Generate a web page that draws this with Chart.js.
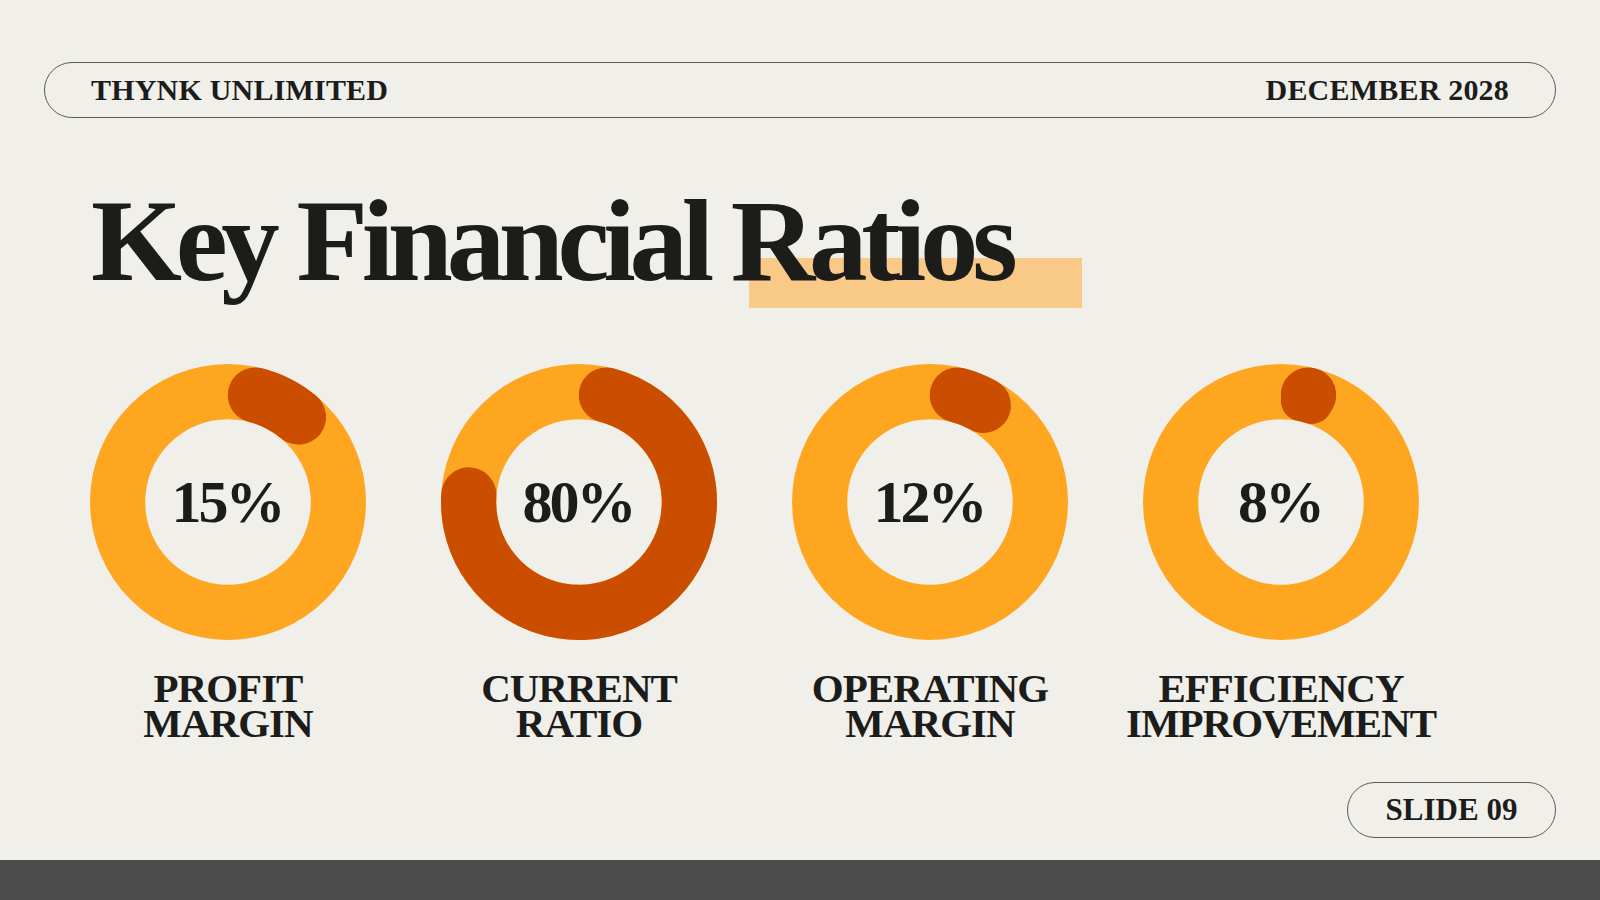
<!DOCTYPE html>
<html>
<head>
<meta charset="utf-8">
<title>Key Financial Ratios</title>
<script src="https://cdn.jsdelivr.net/npm/chart.js@4.4.1/dist/chart.umd.min.js"></script>
<style>

  html, body{
    margin:0;
    padding:0;
  }

  body{
    width:1600px;
    height:900px;
    position:relative;
    overflow:hidden;
    background:#F0EFEA;
    color:#1C1C1A;
    font-family:"Liberation Serif", "DejaVu Serif", serif;
    font-weight:bold;
  }

  .pill{
    position:absolute;
    box-sizing:border-box;
    border:1.5px solid #5a5a5a;
    border-radius:28px;
    display:flex;
    align-items:center;
    font-size:30px;
  }

  #header{
    left:44px;
    top:62px;
    width:1512px;
    height:56px;
    justify-content:space-between;
    padding:0 46px;
  }

  #header span{
    letter-spacing:0.2px;
  }

  #slide{
    left:1347px;
    top:782px;
    width:209px;
    height:56px;
    justify-content:center;
    font-size:31px;
  }

  #highlight{
    position:absolute;
    left:749px;
    top:258px;
    width:333px;
    height:50px;
    background:#F8C987;
  }

  #title{
    position:absolute;
    left:91px;
    top:182px;
    font-size:117px;
    line-height:117px;
    letter-spacing:-6.3px;
    white-space:nowrap;
  }

  .donut{
    position:absolute;
    top:352px;
    width:300px;
    height:300px;
  }

  .label{
    position:absolute;
    top:671px;
    width:400px;
    text-align:center;
    font-size:41px;
    line-height:35px;
    letter-spacing:-1px;
  }

  #footer{
    position:absolute;
    left:0;
    top:860px;
    width:1600px;
    height:40px;
    background:#4B4B4B;
  }

</style>
</head>
<body>

<div id="header" class="pill">
  <span>THYNK UNLIMITED</span>
  <span>DECEMBER 2028</span>
</div>

<div id="highlight"></div>
<div id="title">Key Financial Ratios</div>

<div id="charts"></div>

<div id="slide" class="pill">SLIDE 09</div>

<div id="footer"></div>

<script>

// =====================================
// 📊 DATA
// =====================================

const ratioNames = [
  ["PROFIT", "MARGIN"],
  ["CURRENT", "RATIO"],
  ["OPERATING", "MARGIN"],
  ["EFFICIENCY", "IMPROVEMENT"]
];

const ratioValues = [15, 80, 12, 8];

const centerX = [228, 579, 930, 1281];

const ORANGE = "#FFA621";
const DARK = "#CB4E00";


// =====================================
// 🟠 RING BEHIND THE ARC
// =====================================

const ringPlugin = {

  id:"ring",

  beforeDatasetsDraw(chart){

    const arc =
      chart.getDatasetMeta(0).data[0];

    if(!arc){
      return;
    }

    const {x, y, outerRadius, innerRadius} =
      arc.getProps(["x", "y", "outerRadius", "innerRadius"], true);

    const ctx = chart.ctx;

    ctx.save();
    ctx.beginPath();
    ctx.arc(x, y, outerRadius, 0, Math.PI * 2);
    ctx.arc(x, y, innerRadius, 0, Math.PI * 2, true);
    ctx.fillStyle = ORANGE;
    ctx.fill();
    ctx.restore();

  }

};


// =====================================
// 🔢 CENTER TEXT
// =====================================

const centerPlugin = {

  id:"center",

  afterDatasetsDraw(chart, args, opts){

    const arc =
      chart.getDatasetMeta(0).data[0];

    if(!arc){
      return;
    }

    const {x, y} = arc.getProps(["x", "y"], true);

    const ctx = chart.ctx;

    ctx.save();
    ctx.font = "bold 60px 'Liberation Serif', serif";
    if("letterSpacing" in ctx){
      ctx.letterSpacing = "-3px";
    }
    ctx.fillStyle = "#1C1C1A";
    ctx.textAlign = "center";
    ctx.textBaseline = "alphabetic";
    ctx.fillText(opts.text, x - 1, y + 20);
    ctx.restore();

  }

};


// =====================================
// 🚀 CREATE CHARTS
// =====================================

const holder =
  document.getElementById("charts");

ratioValues.forEach((value, i) => {

  const box = document.createElement("div");
  box.className = "donut";
  box.style.left = (centerX[i] - 150) + "px";

  const canvas = document.createElement("canvas");
  box.appendChild(canvas);
  holder.appendChild(box);

  const label = document.createElement("div");
  label.className = "label";
  label.style.left = (centerX[i] - 200) + "px";
  label.innerHTML = ratioNames[i].join("<br>");
  holder.appendChild(label);

  new Chart(canvas.getContext("2d"), {

    type:"doughnut",

    data:{

      labels:["Value", "Rest"],

      datasets:[

        {

          data:[value, 100 - value],

          backgroundColor:[DARK, "rgba(0,0,0,0)"],

          borderWidth:0,

          borderRadius:ctx => ctx.dataIndex === 0 ? 999 : 0

        }

      ]

    },

    options:{

      responsive:true,

      maintainAspectRatio:false,

      animation:false,

      events:[],

      cutout:"60%",

      layout:{
        padding:12
      },

      plugins:{

        legend:{
          display:false
        },

        tooltip:{
          enabled:false
        },

        center:{
          text:value + "%"
        }

      }

    },

    plugins:[ringPlugin, centerPlugin]

  });

});

</script>
</body>
</html>
